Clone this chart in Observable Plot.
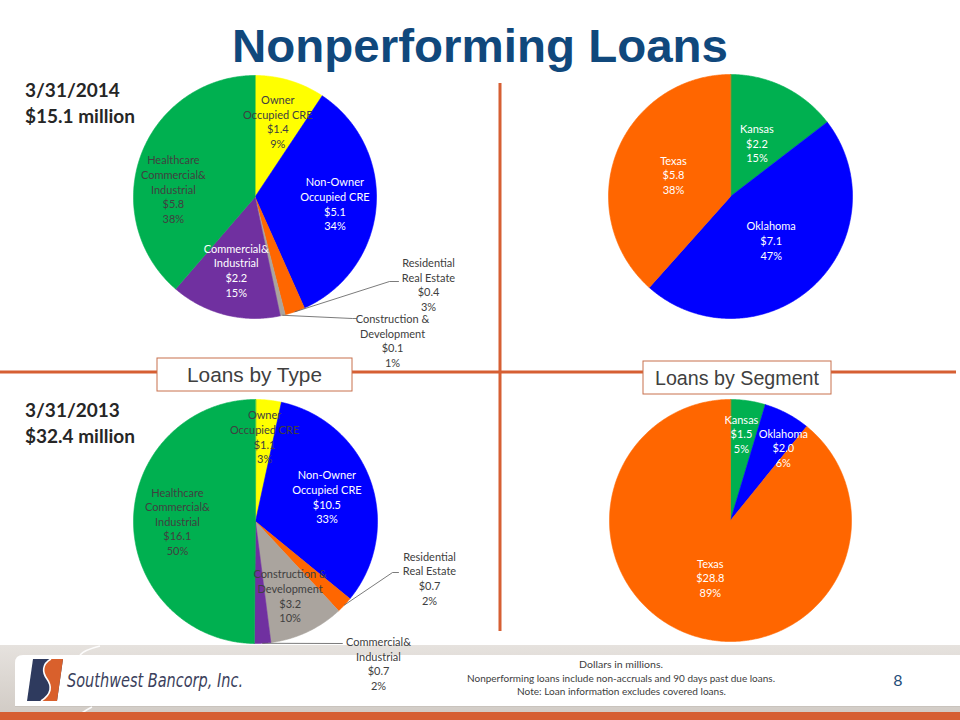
<!DOCTYPE html>
<html>
<head>
<meta charset="utf-8">
<script src="https://cdn.jsdelivr.net/npm/d3@7"></script>
<script src="https://cdn.jsdelivr.net/npm/@observablehq/plot@0.6"></script>
<style>
  html, body { margin: 0; padding: 0; background: #fff; }
  #slide { position: relative; width: 960px; height: 720px; overflow: hidden; background: #fff; }
  #slide > svg { position: absolute; left: 0; top: 0; }
</style>
</head>
<body>
<div id="slide">
<svg id="decor" width="960" height="720" viewBox="0 0 960 720">
  <defs>
    <linearGradient id="band" x1="0" y1="0" x2="0" y2="1">
      <stop offset="0" stop-color="#e6e2de"/>
      <stop offset="1" stop-color="#d2ccc6"/>
    </linearGradient>
  </defs>
  <!-- quadrant lines -->
  <line x1="0" y1="372" x2="956" y2="372" stroke="#d65f33" stroke-width="3"/>
  <line x1="500" y1="83" x2="500" y2="631" stroke="#d65f33" stroke-width="3"/>
  <!-- section boxes -->
  <rect x="157" y="358" width="195" height="33" fill="#fff" stroke="#c8704c" stroke-width="1"/>
  <text x="254.5" y="382" text-anchor="middle" font-family="Liberation Sans, Arial, sans-serif" font-size="20.5" fill="#404040" textLength="135" lengthAdjust="spacingAndGlyphs">Loans by Type</text>
  <rect x="643" y="361" width="188" height="33" fill="#fff" stroke="#c8704c" stroke-width="1"/>
  <text x="737" y="385" text-anchor="middle" font-family="Liberation Sans, Arial, sans-serif" font-size="20.5" fill="#404040" textLength="164" lengthAdjust="spacingAndGlyphs">Loans by Segment</text>
  <!-- title -->
  <text x="480" y="62" text-anchor="middle" font-family="Liberation Sans, Arial, sans-serif" font-weight="bold" font-size="45.5" fill="#10487c" textLength="496" lengthAdjust="spacingAndGlyphs">Nonperforming Loans</text>
  <!-- period labels -->
  <g font-family="Lato, sans-serif" font-weight="bold" font-size="19" fill="#262626">
    <text x="25" y="97">3/31/2014</text>
    <text x="25" y="123">$15.1 million</text>
    <text x="25" y="417">3/31/2013</text>
    <text x="25" y="443">$32.4 million</text>
  </g>
  <!-- footer -->
  <rect x="0" y="645" width="960" height="67" fill="url(#band)"/>
  <path d="M23,656 L960,656 L960,707 L15,707 L15,664 Q15,656 23,656 Z" fill="#c9c3bd"/>
  <path d="M23,655 L960,655 L960,706 L15,706 L15,663 Q15,655 23,655 Z" fill="#fff"/>
  <path d="M100,646 Q84,650 80,655" stroke="#fff" stroke-width="1.5" fill="none" opacity="0.9"/>
  <path d="M92,707 Q82,712 76,718" stroke="#fff" stroke-width="1.5" fill="none" opacity="0.9"/>
  <rect x="0" y="712" width="960" height="8" fill="#d65f33"/>
  <!-- logo icon -->
  <path d="M33,659 L63,659 L57,701 L27,701 Z" fill="#2e3a5e"/>
  <path d="M51,659 L63,659 L57,701 L41,701 C52,694 52,686 47,679 C42,672 42,664 51,659 Z" fill="#d9602c"/>
  <path d="M51,659 C42,664 42,672 47,679 C52,686 52,694 41,701" stroke="#fff" stroke-width="1.6" fill="none"/>
  <text x="67" y="687" font-family="Liberation Sans Narrow, DejaVu Sans Condensed, sans-serif" font-style="italic" font-size="20" fill="#3b3f5c" textLength="176" lengthAdjust="spacingAndGlyphs">Southwest Bancorp, Inc.</text>
  <g font-family="Lato, sans-serif" font-size="9.5" fill="#404040" text-anchor="middle">
    <text x="621" y="668" textLength="84" lengthAdjust="spacingAndGlyphs">Dollars in millions.</text>
    <text x="621" y="682" textLength="308" lengthAdjust="spacingAndGlyphs">Nonperforming loans include non-accruals and 90 days past due loans.</text>
    <text x="621.5" y="695" textLength="209" lengthAdjust="spacingAndGlyphs">Note: Loan information excludes covered loans.</text>
  </g>
  <text x="898" y="686" text-anchor="middle" font-family="Lato, sans-serif" font-size="16" fill="#1f4e79">8</text>
</svg>
</div>
<script>
// ---------------- DATA ----------------
const typeNames = ["Owner Occupied CRE", "Non-Owner Occupied CRE", "Residential Real Estate",
                   "Construction & Development", "Commercial & Industrial", "Healthcare Commercial & Industrial"];
const typeLabelLines = [["Owner", "Occupied CRE"], ["Non-Owner", "Occupied CRE"], ["Residential", "Real Estate"],
                        ["Construction &", "Development"], ["Commercial&", "Industrial"], ["Healthcare", "Commercial&", "Industrial"]];
const loans2014 = [1.4, 5.1, 0.4, 0.1, 2.2, 5.8];
const loansPct2014 = [9, 34, 3, 1, 15, 38];
const loans2013 = [1.1, 10.5, 0.7, 3.2, 0.7, 16.1];
const loansPct2013 = [3, 33, 2, 10, 2, 50];

const segments = ["Kansas", "Oklahoma", "Texas"];
const segment2014 = [2.2, 7.1, 5.8];
const segmentPct2014 = [15, 47, 38];
const segment2013 = [1.5, 2.0, 28.8];
const segmentPct2013 = [5, 6, 89];

// ---------------- STYLE / LAYOUT ----------------
const typeColors = ["#ffff00", "#0000ff", "#ff6600", "#aaa49e", "#7030a0", "#00b050"];
const segmentColors = ["#00b050", "#0000ff", "#ff6600"];

const layout = {
  t14: {cx: 254.5, cy: 196.5, r: 121.5,
        place: [{k: .65}, {k: .66},
                {out: [173.5, 87.5], leader: [[134.5, 84.5], [143.5, 84.5]]},
                {out: [137.5, 143.5], leader: [[97.5, 121.5], [101.5, 121.5]]},
                {k: .62}, {k: .675, da: -14.7}],
        ink: ["dark", "white", "dark", "dark", "white", "dark"]},
  s14: {cx: 730, cy: 196, r: 122,
        place: [{k: .49}, {k: .49}, {k: .50}],
        ink: ["white", "white", "white"]},
  t13: {cx: 255, cy: 521, r: 122,
        place: [{k: .70}, {k: .62},
                {out: [174, 56.5], leader: [[137, 51], [143, 51]]},
                {k: .67},
                {out: [123, 142], leader: [[87, 122], [87, 122]]},
                {k: .64}],
        ink: ["dark", "white", "dark", "dark", "dark", "dark"]},
  s13: {cx: 730, cy: 520, r: 121,
        place: [{k: .725, da: -1.2}, {k: .745, da: 8}, {k: .50}],
        ink: ["white", "white", "white"]}
};

const pies = [
  {key: "t14", cats: typeNames, lines: typeLabelLines, values: loans2014, pct: loansPct2014},
  {key: "s14", cats: segments, lines: segments.map(s => [s]), values: segment2014, pct: segmentPct2014},
  {key: "t13", cats: typeNames, lines: typeLabelLines, values: loans2013, pct: loansPct2013},
  {key: "s13", cats: segments, lines: segments.map(s => [s]), values: segment2013, pct: segmentPct2013}
];

// ---------------- GEOMETRY FROM DATA ----------------
const slicePts = [], leaderPts = [], labels = [];
const pieGen = d3.pie().sort(null).value(d => d);
for (const p of pies) {
  const L = layout[p.key];
  const arcs = pieGen(p.values);
  const pos = (a, rr) => ({x: L.cx + rr * Math.sin(a), y: L.cy - rr * Math.cos(a)});
  arcs.forEach((a, i) => {
    const id = p.key + i, cat = p.cats[i];
    slicePts.push({id, cat, ...pos(0, 0)});
    const n = Math.max(2, Math.ceil((a.endAngle - a.startAngle) / (Math.PI / 360)));
    for (let j = 0; j <= n; j++) {
      const t = a.startAngle + (a.endAngle - a.startAngle) * j / n;
      slicePts.push({id, cat, ...pos(t, L.r)});
    }
    const mid = (a.startAngle + a.endAngle) / 2;
    const pl = L.place[i];
    const text = [...p.lines[i], "$" + p.values[i].toFixed(1), p.pct[i] + "%"].join("\n");
    let lp;
    if (pl.out) {
      lp = {x: L.cx + pl.out[0], y: L.cy + pl.out[1]};
      leaderPts.push({id, ...pos(mid, L.r)});
      for (const q of pl.leader) leaderPts.push({id, x: L.cx + q[0], y: L.cy + q[1]});
    } else {
      lp = pos(mid + (pl.da || 0) * Math.PI / 180, pl.k * L.r);
    }
    labels.push({...lp, text, ink: L.ink[i]});
  });
}

const textOpts = {x: "x", y: "y", text: "text", fontSize: 11, fontFamily: "Lato, sans-serif", lineHeight: 1.33};

const chart = Plot.plot({
  width: 960, height: 720, margin: 0,
  x: {domain: [0, 960], range: [0, 960], axis: null},
  y: {domain: [0, 720], range: [0, 720], axis: null},
  color: {domain: [...typeNames, ...segments], range: [...typeColors, ...segmentColors]},
  style: {background: "transparent", overflow: "visible"},
  marks: [
    Plot.line(slicePts, {x: "x", y: "y", z: "id", fill: "cat", stroke: "cat", strokeWidth: 0.6, curve: "linear-closed"}),
    Plot.line(leaderPts, {x: "x", y: "y", z: "id", stroke: "#595959", strokeWidth: 0.8}),
    Plot.text(labels.filter(d => d.ink === "dark"), {...textOpts, fill: "#404040"}),
    Plot.text(labels.filter(d => d.ink === "white"), {...textOpts, fill: "#ffffff"})
  ]
});
document.getElementById("slide").appendChild(chart);
</script>
</body>
</html>
